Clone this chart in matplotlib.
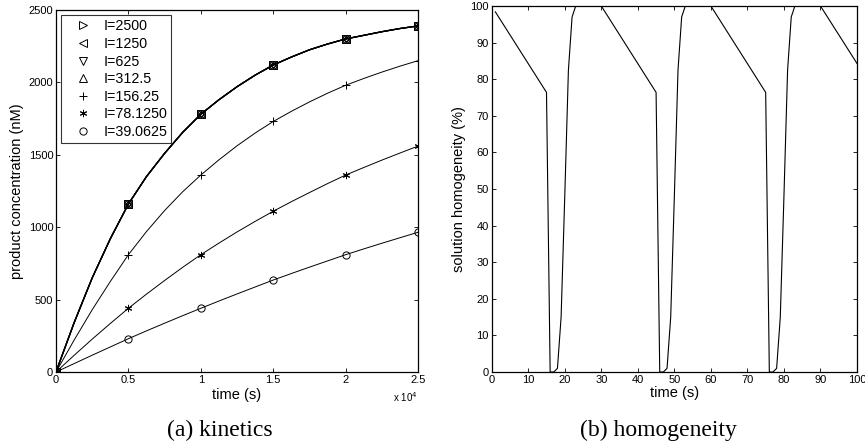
import matplotlib
matplotlib.use("Agg")
import matplotlib.pyplot as plt
from matplotlib.ticker import FuncFormatter

plt.rcParams['font.family'] = ['Liberation Sans', 'DejaVu Sans']

# ---- (a) kinetics data ----
t_line = [0, 1250, 2500, 3750, 5000, 6250, 7500, 8750, 10000, 11250, 12500,
          13750, 15000, 16250, 17500, 18750, 20000, 21250, 22500, 23750, 25000]
conc_high = [0, 340, 650, 920, 1160, 1350, 1510, 1655, 1780, 1880, 1970,
             2050, 2120, 2175, 2225, 2265, 2300, 2325, 2350, 2372, 2390]
conc_156 = [0, 220, 430, 625, 810, 970, 1115, 1245, 1360, 1465, 1562,
            1650, 1730, 1800, 1865, 1925, 1980, 2027, 2071, 2112, 2150]
conc_78 = [0, 115, 227, 335, 440, 538, 632, 723, 810, 890, 967,
           1040, 1110, 1176, 1239, 1301, 1360, 1412, 1463, 1512, 1560]
conc_39 = [0, 58, 116, 173, 230, 284, 337, 389, 440, 490, 539,
           587, 635, 680, 724, 767, 810, 850, 889, 927, 965]
series_labels = ['I=2500', 'I=1250', 'I=625', 'I=312.5', 'I=156.25', 'I=78.1250', 'I=39.0625']
series_markers = ['>', '<', 'v', '^', '+', (6, 2, 0), 'o']
series_values = [conc_high, conc_high, conc_high, conc_high, conc_156, conc_78, conc_39]
marker_step = 4

# ---- (b) homogeneity data ----
t_homog = [1, 15, 16, 17, 18, 19, 20, 21, 22, 23, 30,
           45, 46, 47, 48, 49, 50, 51, 52, 53, 60,
           75, 76, 77, 78, 79, 80, 81, 82, 83, 90, 100]
homog = [98.4, 76.4, 0, 0, 1, 15, 48, 82.5, 97, 100, 100,
         76.4, 0, 0, 1, 15, 48, 82.5, 97, 100, 100,
         76.4, 0, 0, 1, 15, 48, 82.5, 97, 100, 100, 84.3]

W, H = 865, 447
fig = plt.figure(figsize=(W / 100, H / 100), dpi=100)

ax1 = fig.add_axes([56 / W, 1 - 372 / H, (418 - 56) / W, (372 - 10) / H])
ax2 = fig.add_axes([491.7 / W, 1 - 372 / H, (857 - 491.7) / W, (372 - 6) / H])

for i, (vals, lab, mk) in enumerate(zip(series_values, series_labels, series_markers)):
    ax1.plot(t_line, vals, color='black', lw=0.9 if i < 4 else 0.7)
    ax1.plot(t_line[::marker_step], vals[::marker_step], linestyle='none',
             marker=mk, ms=5.2, mfc='none', mec='black', mew=0.7, label=lab)

ax1.set_xlim(0, 25000)
ax1.set_ylim(0, 2500)
ax1.set_xticks([0, 5000, 10000, 15000, 20000, 25000])
ax1.xaxis.set_major_formatter(FuncFormatter(lambda v, p: f"{v/1e4:g}"))
ax1.set_yticks([0, 500, 1000, 1500, 2000, 2500])
ax1.set_xlabel('time (s)', fontsize=10.5, labelpad=2)
ax1.set_ylabel('product concentration (nM)', fontsize=10.5, labelpad=3)
ax1.text(1.0, -0.05, r'x 10$^4$', transform=ax1.transAxes, ha='right', va='top', fontsize=7)

leg = ax1.legend(loc='upper left', bbox_to_anchor=(0.014, 0.986), fontsize=10.3,
                 frameon=True, fancybox=False, edgecolor='black', handlelength=2.5,
                 handletextpad=0.15, labelspacing=0.25, borderpad=0.3, borderaxespad=0)
leg.get_frame().set_linewidth(0.8)

ax2.plot(t_homog, homog, color='black', lw=0.8)
ax2.set_xlim(0, 100)
ax2.set_ylim(0, 100)
ax2.set_xticks(range(0, 101, 10))
ax2.set_yticks(range(0, 101, 10))
ax2.set_xlabel('time (s)', fontsize=10.5, labelpad=1)
ax2.set_ylabel('solution homogeneity (%)', fontsize=10.5, labelpad=3)

for ax in (ax1, ax2):
    ax.tick_params(direction='in', top=True, right=True, labelsize=8, length=3, width=0.6, pad=2)
    for s in ax.spines.values():
        s.set_linewidth(0.9)

fig.text(220 / W, 1 - 430 / H, '(a) kinetics', ha='center', va='center',
         fontsize=17, family=['Liberation Serif'])
fig.text(658 / W, 1 - 430 / H, '(b) homogeneity', ha='center', va='center',
         fontsize=17, family=['Liberation Serif'])

fig.savefig('out.png', dpi=100)
